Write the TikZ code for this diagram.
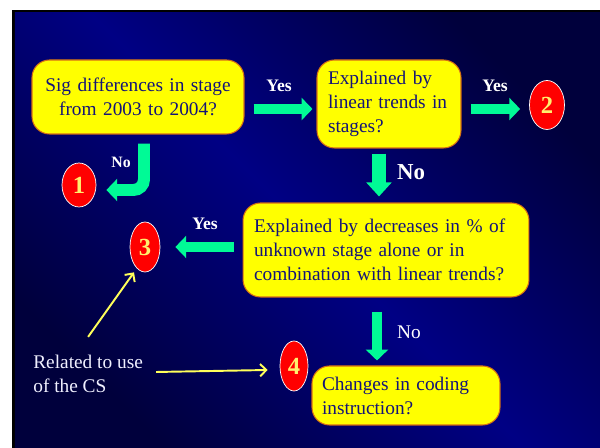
\documentclass[tikz,border=0pt]{standalone}
\usepackage{fontspec}
\setmainfont{Liberation Serif}
\usepackage{tikz}
\usetikzlibrary{arrows.meta}
\usetikzlibrary{calc}
\usetikzlibrary{shapes.geometric}
\definecolor{boxyellow}{RGB}{255, 255, 0}
\definecolor{boxedge}{RGB}{214, 110, 20}
\definecolor{textblue}{RGB}{20, 20, 120}
\definecolor{arrowgreen}{RGB}{0, 250, 150}
\definecolor{darknavy}{RGB}{0, 0, 60}
\definecolor{brightnavy}{RGB}{0, 0, 132}
\definecolor{lightyellow}{RGB}{255, 240, 110}
\definecolor{pointeryellow}{RGB}{255, 255, 90}

\begin{document}
\begin{tikzpicture}[x=0.02cm, y=-0.02cm,
            question/.style = {draw=boxedge, line width=0.6pt, fill=boxyellow, text=textblue, rounded corners=3.5mm, inner sep=0pt, font=\fontsize{11}{13.6}\selectfont},
            outcome/.style = {ellipse, draw=white, line width=0.4pt, fill=red, text=lightyellow, inner sep=0pt, font=\fontsize{14}{14}\bfseries},
            answer/.style = {text=white, inner sep=0pt, font=\fontsize{10}{12}\bfseries},
            note/.style = {anchor=west, align=left, text=white!94!blue, inner sep=0pt, font=\fontsize{11}{13.6}\selectfont},
            flow/.style = {draw=arrowgreen, line width=5.7pt, -{Triangle[length=6.2pt,width=12.5pt]}},
            pointer/.style = {draw=pointeryellow, line width=1.1pt, -{Straight Barb[length=3.5pt,width=7pt]}}]
        % slide background
        \fill[white] (0,0) rectangle (600,448);
        \fill[black] (12,10) rectangle (600,448);
        \shade[top color=darknavy, bottom color=darknavy, middle color=brightnavy, shading angle=-45] (15,13) rectangle (600,448);
        \useasboundingbox (0,0) rectangle (600,448);

        \node[question, minimum width=4.24cm, minimum height=1.48cm, text width=4.0cm, align=center] (sig) at (138,97) {Sig differences in stage\\from 2003 to 2004?};
        \node[question, minimum width=2.88cm, minimum height=1.76cm, text width=2.44cm, align=left] (linear) at (389,104) {Explained by\\linear trends in\\stages?};
        \node[question, minimum width=5.72cm, minimum height=1.88cm, text width=5.28cm, align=left] (unknown) at (386,250) {Explained by decreases in \% of\\unknown stage alone or in\\combination with linear trends?};
        \node[question, minimum width=3.76cm, minimum height=1.18cm, text width=3.36cm, align=left] (coding) at (406,395.5) {Changes in coding\\instruction?};

        \node[outcome, minimum width=0.68cm, minimum height=0.88cm] (one) at (79,185) {1};
        \node[outcome, minimum width=0.70cm, minimum height=0.98cm] (two) at (547,105) {2};
        \node[outcome, minimum width=0.60cm, minimum height=1.0cm] (three) at (145,247) {3};
        \node[outcome, minimum width=0.56cm, minimum height=1.0cm] (four) at (294,366) {4};

        \node[answer] (yes1) at (279,86) {Yes};
        \node[answer] (yes2) at (495,86) {Yes};
        \node[answer] (yes3) at (205,224) {Yes};
        \node[answer, font=\fontsize{9}{11}\bfseries] (no1) at (121,162) {No};
        \node[answer, font=\fontsize{13}{15}\bfseries] (no2) at (411,172) {No};
        \node[answer, font=\fontsize{11}{13}\selectfont] (no3) at (409,332) {No};
        \node[note] (rel) at (33,374) {Related to use\\of the CS};

        \draw[flow] ($(sig.east)+(9,12)$) -- ($(linear.west)+(-4,5)$);
        \draw[flow] ($(linear.east)+(9,5)$) -- ($(two.west)+(-9,4)$);
        \draw[flow, line width=6.8pt, rounded corners=6pt] ($(sig.south)+(6,9)$) |- ($(one.east)+(10,5)$);
        \draw[flow, line width=7.4pt, -{Triangle[length=8pt,width=14pt]}] ($(linear.south)+(-10,5)$) -- ($(unknown.north)+(-7,-6)$);
        \draw[flow] ($(unknown.west)+(-9,-3)$) -- ($(three.east)+(15,0)$);
        \draw[flow] ($(unknown.south)+(-9,14)$) -- ($(coding.north)+(-29,-5)$);
        \draw[pointer] ($(rel.north)+(0,-18)$) -- ($(three.south)+(-11,0)$);
        \draw[pointer] ($(rel.east)+(13,-2)$) -- ($(four.west)+(-12,4)$);
\end{tikzpicture}
\end{document}
